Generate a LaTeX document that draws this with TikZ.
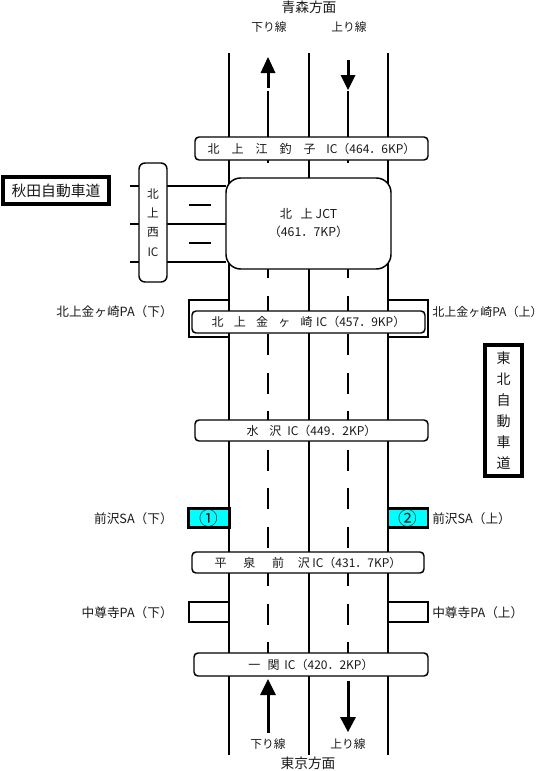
\documentclass[tikz,border=0pt]{standalone}
\usepackage{fontspec}
\setmainfont{Noto Sans CJK JP}
\definecolor{aqua}{RGB}{0,255,255}
\definecolor{ink}{RGB}{25,25,25}
\newcommand{\gp}[1]{\hspace{#1em}}
\begin{document}
\begin{tikzpicture}[x=0.75pt,y=-0.75pt,
  road/.style={line width=1.5pt, black},
  lanel/.style={line width=1.4pt, black, dash pattern=on 15.75pt off 13.1pt},
  laner/.style={line width=1pt, black, dash pattern=on 15.75pt off 13.1pt},
  sz/.style 2 args={minimum width=#1*0.75pt, minimum height=#2*0.75pt, inner sep=0pt, outer sep=0pt},
  icbox/.style={draw, line width=1.1pt, rounded corners=3pt, fill=white, font=\fontsize{9}{10}\selectfont, text=ink},
  jctbox/.style={draw, line width=1.1pt, rounded corners=11pt, fill=white, align=center, font=\fontsize{9.2}{13.5}\selectfont, text=ink},
  nishibox/.style={draw, line width=1.1pt, rounded corners=4.5pt, fill=white, align=center, font=\fontsize{8.8}{14.5}\selectfont, text=ink},
  thickbox/.style={draw, line width=3pt, fill=white, align=center, text=ink},
  pabox/.style={draw, line width=1.5pt, fill=white},
  sabox/.style={draw, line width=1.9pt, fill=aqua},
  satxt/.style={font=\fontsize{14}{14}\selectfont, text=ink, inner sep=0pt},
  lbl/.style={font=\fontsize{9.5}{10}\selectfont, text=ink, inner sep=0pt},
  dirlbl/.style={font=\fontsize{8.8}{10}\selectfont, text=ink, inner sep=0pt},
  citylbl/.style={font=\fontsize{10.3}{11}\selectfont, text=ink, inner sep=0pt}
]
\useasboundingbox (0,0) rectangle (544,771);

% road edge and median lines
\coordinate (lt) at (229,53); \coordinate (lb) at (229,755);
\coordinate (mt) at (309,53); \coordinate (mb) at (309,755);
\coordinate (rt) at (388,53); \coordinate (rb) at (388,755);
\draw[road] (lt) -- (lb);
\draw[road] (mt) -- (mb);
\draw[road] (rt) -- (rb);

% lane lines
\coordinate (la1) at (268,91); \coordinate (la2) at (268,137);
\coordinate (la3) at (268,142); \coordinate (la4) at (268,653);
\coordinate (ra1) at (348,91); \coordinate (ra2) at (348,137);
\coordinate (ra3) at (348,142); \coordinate (ra4) at (348,653);
\draw[line width=1.4pt] (la1) -- (la2);
\draw[line width=1pt] (ra1) -- (ra2);
\draw[lanel] (la3) -- (la4);
\draw[laner] (ra3) -- (ra4);

% top arrows
\fill (268,57) -- (275.5,73) -- (260.5,73) -- cycle;
\draw[line width=2.25pt] (268,72) -- (268,88);
\draw[line width=2.25pt] (348,60) -- (348,76);
\fill (348,90) -- (355.5,75) -- (340.5,75) -- cycle;
% bottom arrows
\fill (268,679) -- (276,695) -- (260,695) -- cycle;
\draw[line width=2.25pt] (268,694) -- (268,733);
\draw[line width=2.25pt] (348,681) -- (348,718);
\fill (348,732) -- (356,717) -- (340,717) -- cycle;

% direction labels
\node[citylbl] (aomori) at (309,7) {青森方面};
\node[dirlbl] (kudari1) at (269,27) {下り線};
\node[dirlbl] (nobori1) at (349,27) {上り線};
\node[dirlbl] (kudari2) at (268,744) {下り線};
\node[dirlbl] (nobori2) at (348,744) {上り線};
\node[citylbl] (tokyo) at (308,763) {東京方面};

% Kitakami-Nishi IC links
\draw[road, line width=1.3pt] (130,186) -- (139,186);
\draw[road, line width=1.3pt] (130,224) -- (139,224);
\draw[road, line width=1.3pt] (130,262) -- (139,262);
\draw[road, line width=1.3pt] (167,186) -- (226,186);
\draw[road, line width=1.3pt] (167,224) -- (226,224);
\draw[road, line width=1.3pt] (167,262) -- (226,262);
\draw[line width=0.8pt] (189,205) -- (211,205);
\draw[line width=0.8pt] (189,243) -- (211,243);

% boxes
\node[icbox, sz={233}{23}] (ic1) at (311.5,148.5) {北\gp{1.0}上\gp{1.0}江\gp{1.0}釣\gp{1.0}子\gp{0.9}IC（464．6KP）};
\node[jctbox, sz={165}{91}] (jct) at (308.5,223.5) {北\gp{0.7}上 JCT\\（461．7KP）};
\node[nishibox, sz={28}{119}] (nishi) at (153,222.5) {北\\上\\西\\IC};
\node[thickbox, sz={106}{27}, font=\fontsize{11.1}{12}\selectfont] (akita) at (56,190.5) {秋田自動車道};

\node[pabox, sz={40}{37}] (kpal) at (209,318.5) {};
\node[pabox, sz={40}{37}] (kpar) at (408,318.5) {};
\node[icbox, sz={233}{22}] (ic2) at (308.5,322) {北\gp{0.85}上\gp{0.85}金\gp{0.85}ヶ\gp{0.85}崎\gp{0.3}IC（457．9KP）};
\node[lbl, anchor=east] (kpalt) at (173,312) {北上金ヶ崎PA（下）};
\node[lbl, anchor=west, font=\fontsize{9}{10}\selectfont] (kpart) at (432,312) {北上金ヶ崎PA（上）};

\node[thickbox, sz={37}{131}, font=\fontsize{10.5}{15.8}\selectfont] (tohoku) at (503.5,410.5) {東\\北\\自\\動\\車\\道};

\node[icbox, sz={233}{21}] (ic3) at (311.5,430.5) {水\gp{0.9}沢\gp{0.5}IC（449．2KP）};

\node[sabox, sz={41}{19}] (sa1) at (209,518) {};
\node[sabox, sz={40}{19}] (sa2) at (408,518) {};
\node[satxt] (sa1n) at (sa1.center) {①};
\node[satxt] (sa2n) at (sa2.center) {②};
\node[lbl, anchor=east] (sa1t) at (173,519) {前沢SA（下）};
\node[lbl, anchor=west] (sa2t) at (432,519) {前沢SA（上）};

\node[icbox, sz={232}{21}] (ic4) at (308,562.5) {平\gp{1.4}泉\gp{1.4}前\gp{1.15}沢\gp{0.2}IC（431．7KP）};

\node[pabox, sz={40}{20}] (cpal) at (209,612) {};
\node[pabox, sz={40}{20}] (cpar) at (408,612) {};
\node[lbl, anchor=east] (cpalt) at (173,613) {中尊寺PA（下）};
\node[lbl, anchor=west] (cpart) at (432,613) {中尊寺PA（上）};

\node[icbox, sz={234}{23}] (ic5) at (311,664.5) {一\gp{0.6}関\gp{0.4}IC（420．2KP）};
\end{tikzpicture}
\end{document}
